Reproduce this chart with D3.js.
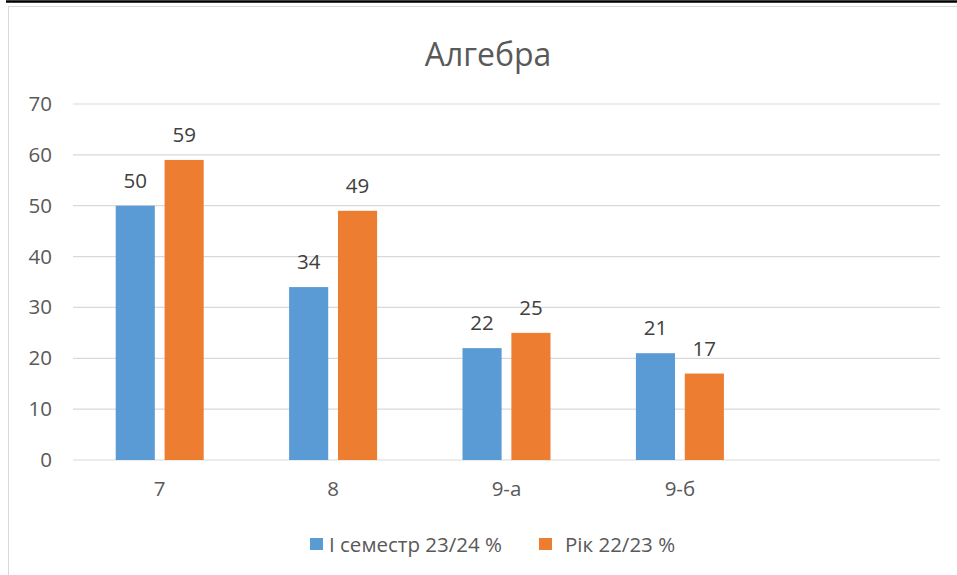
<!DOCTYPE html>
<html>
<head>
<meta charset="utf-8">
<script src="https://cdn.jsdelivr.net/npm/d3@7"></script>
<style>
  body { margin: 0; background: #fff; }
  svg { display: block; font-family: "Open Sans", sans-serif; }
</style>
</head>
<body>
<script>
// Дані з діаграми
var classes = ["7", "8", "9-а", "9-б", ""]
var semestr = [50, 34, 22, 21]
var rik = [59, 49, 25, 17]
var seriesNames = ["І семестр 23/24 %", "Рік 22/23 %"]
var yTicks = [0, 10, 20, 30, 40, 50, 60, 70]

var width = 957
var height = 575
var plot = {left: 73, right: 940, top: 104, bottom: 460}
var colors = ["#5b9bd5", "#ed7d31"]
var fontSize = 20.5

var svg = d3.select("body").append("svg")
    .attr("width", width)
    .attr("height", height)

// rand van de pagina
svg.append("line")
    .attr("x1", 6).attr("x2", width).attr("y1", 1.5).attr("y2", 1.5)
    .attr("stroke", "#000").attr("stroke-width", 2.5)
svg.append("rect")
    .attr("x", 8.5).attr("y", 6.5)
    .attr("width", width).attr("height", height)
    .attr("fill", "none").attr("stroke", "#d9d9d9")

var x0 = d3.scaleBand().domain(classes).range([plot.left, plot.right])
var x1 = d3.scaleBand().domain([0, 1]).range([0, 88]).paddingInner(0.2)
var y = d3.scaleLinear().domain([0, 70]).range([plot.bottom, plot.top])

// rasterlijnen
svg.append("g").selectAll("line")
  .data(yTicks)
  .enter().append("line")
  .attr("x1", plot.left).attr("x2", plot.right)
  .attr("y1", d => y(d)).attr("y2", d => y(d))
  .attr("stroke", "#d9d9d9").attr("stroke-width", 1.2)

// y as
var yAxis = d3.axisLeft(y).tickValues(yTicks).tickSize(0).tickPadding(0)
svg.append("g")
   .attr("transform", "translate(52,0)")
   .call(yAxis)
   .call(g => g.select(".domain").remove())
   .call(g => g.selectAll("text")
      .attr("font-family", "Open Sans").attr("font-size", fontSize).attr("fill", "#595959"))

// x as
var xAxis = d3.axisBottom(x0).tickSize(0).tickPadding(21)
svg.append("g")
   .attr("transform", `translate(0,${plot.bottom})`)
   .call(xAxis)
   .call(g => g.select(".domain").remove())
   .call(g => g.selectAll("text")
      .attr("font-family", "Open Sans").attr("font-size", fontSize).attr("fill", "#595959"))

var data = [semestr, rik]
data.forEach(function(values, s) {
  var g = svg.append("g")
  g.selectAll("rect")
    .data(values)
    .enter().append("rect")
    .attr("x", (d, i) => x0(classes[i]) + x0.bandwidth() / 2 - 44 + x1(s))
    .attr("y", d => y(d))
    .attr("width", x1.bandwidth())
    .attr("height", d => plot.bottom - y(d))
    .attr("fill", colors[s])
  g.selectAll("text")
    .data(values)
    .enter().append("text")
    .attr("x", (d, i) => x0(classes[i]) + x0.bandwidth() / 2 - 44 + x1(s) + x1.bandwidth() / 2)
    .attr("y", d => y(d) - 18)
    .attr("text-anchor", "middle")
    .attr("font-size", fontSize)
    .attr("fill", "#404040")
    .text(d => d)
})

// titel
svg.append("text")
    .attr("x", 488).attr("y", 66)
    .attr("text-anchor", "middle")
    .attr("font-size", 32)
    .attr("fill", "#595959")
    .text("Алгебра")

// legenda
var legendX = [310, 539]
var legend = svg.selectAll(".legend")
    .data(seriesNames)
    .enter().append("g")
    .attr("class", "legend")
    .attr("transform", (d, i) => `translate(${legendX[i]},538)`)

legend.append("rect")
    .attr("width", 13).attr("height", 12)
    .attr("fill", (d, i) => colors[i])

legend.append("text")
    .attr("x", (d, i) => i == 0 ? 19 : 26)
    .attr("y", 7)
    .attr("dy", ".35em")
    .attr("font-size", fontSize)
    .attr("fill", "#595959")
    .text(d => d)
</script>
</body>
</html>
